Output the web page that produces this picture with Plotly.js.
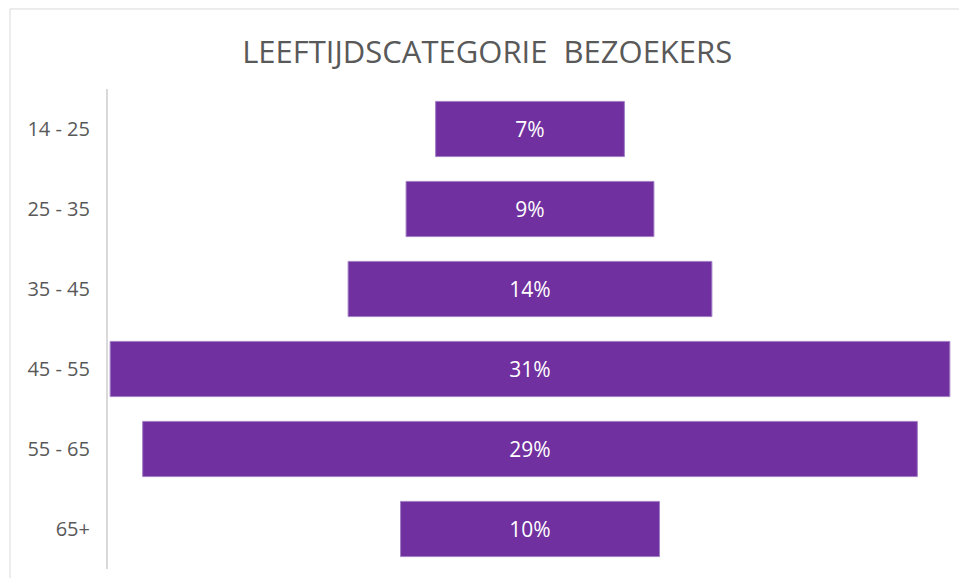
<!DOCTYPE html>
<html><head><meta charset="utf-8">
<script src="https://cdn.plot.ly/plotly-3.0.1.min.js"></script>
<style>html,body{margin:0;padding:0;background:#fff;}#chart{width:959px;height:578px;}</style>
</head><body><div id="chart"></div>
<script>
const categories = ["14 - 25", "25 - 35", "35 - 45", "45 - 55", "55 - 65", "65+"];
const shares = [6.97, 9.15, 13.43, 31.0, 28.6, 9.56];
const labels = ["7%", "9%", "14%", "31%", "29%", "10%"];

const trace = {
  type: 'funnel',
  orientation: 'h',
  y: categories,
  x: shares,
  text: labels,
  textinfo: 'text',
  textposition: 'inside',
  insidetextanchor: 'middle',
  constraintext: 'none',
  textfont: {family: 'Open Sans, sans-serif', size: 21, color: '#ffffff'},
  insidetextfont: {family: 'Open Sans, sans-serif', size: 21, color: '#ffffff'},
  marker: {color: '#7030A0', line: {color: '#a27fc4', width: 1}},
  connector: {visible: false},
  hoverinfo: 'none'
};

const layout = {
  width: 959, height: 578,
  margin: {l: 108, r: 7, t: 89, b: 9},
  paper_bgcolor: '#ffffff', plot_bgcolor: '#ffffff',
  showlegend: false,
  title: {text: 'LEEFTIJDSCATEGORIE  BEZOEKERS', x: 0.508, xanchor: 'center', y: 0.91, yanchor: 'middle',
          font: {family: 'Open Sans, sans-serif', size: 31, color: '#595959'}},
  funnelgap: 0.31,
  xaxis: {range: [-15.58, 15.58], visible: false, fixedrange: true},
  yaxis: {categoryorder: 'array', categoryarray: categories, autorange: 'reversed',
          showline: true, linecolor: '#d9d9d9', linewidth: 2,
          ticks: 'outside', ticklen: 12, tickcolor: 'rgba(0,0,0,0)',
          tickfont: {family: 'Open Sans, sans-serif', size: 20, color: '#595959'},
          showgrid: false, zeroline: false},
  shapes: [
    {type: 'line', xref: 'paper', yref: 'paper', x0: -0.1161, x1: 1.2, y0: 1.1667, y1: 1.1667,
     line: {color: '#d9d9d9', width: 1}, layer: 'below'},
    {type: 'line', xref: 'paper', yref: 'paper', x0: -0.1161, x1: -0.1161, y0: 1.1667, y1: -0.2,
     line: {color: '#d9d9d9', width: 1}, layer: 'below'}
  ]
};

Plotly.newPlot('chart', [trace], layout, {displayModeBar: false, staticPlot: true});
</script>
</body></html>
